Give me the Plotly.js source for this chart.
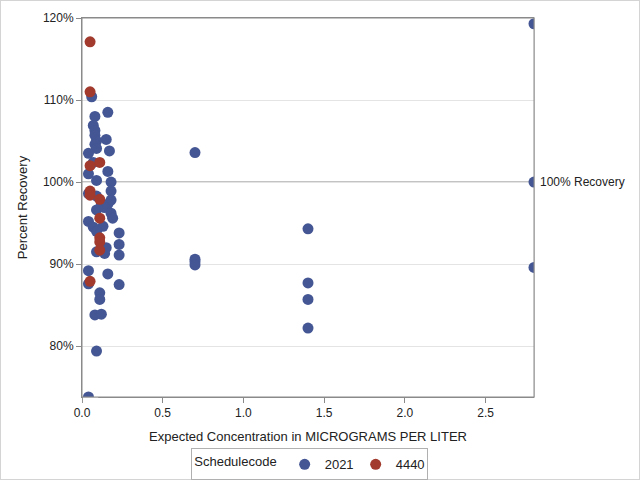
<!DOCTYPE html>
<html><head><meta charset="utf-8">
<script src="https://cdn.plot.ly/plotly-3.0.1.min.js"></script>
<style>
html,body{margin:0;padding:0;background:#fff;}
#chart{width:640px;height:480px;outline:1px solid #d4d4d4;outline-offset:-1px;}
</style></head>
<body><div id="chart"></div>
<script>
// Schedule 2021 (blue)
const x2021 = [0.06,0.16,0.08,0.07,0.08,0.08,0.09,0.15,0.08,0.09,0.17,0.04,0.07,0.16,0.04,0.09,0.18,0.18,0.18,0.04,0.09,0.16,0.12,0.09,0.14,0.18,0.19,0.04,0.07,0.13,0.09,0.23,0.23,0.15,0.09,0.14,0.23,0.04,0.16,0.04,0.23,0.11,0.11,0.08,0.12,0.09,0.04,
  0.7,0.7,0.7,0.7, 1.4,1.4,1.4,1.4, 2.8,2.8,2.8];
const y2021 = [110.4,108.5,108.0,106.9,106.3,105.7,105.0,105.2,104.6,104.1,103.8,103.5,102.4,101.3,101.0,100.2,100.0,98.9,97.8,98.6,98.3,97.3,97.3,96.6,96.9,96.2,95.6,95.2,94.5,94.6,94.0,93.8,92.4,92.0,91.5,91.3,91.1,89.2,88.8,87.6,87.5,86.5,85.7,83.8,83.9,79.4,73.8,
  103.6,90.6,90.3,89.9, 94.3,87.7,85.7,82.2, 119.3,100.0,89.6];
// Schedule 4440 (red)
const x4440 = [0.05,0.05,0.05,0.11,0.05,0.05,0.11,0.11,0.11,0.11,0.11,0.05];
const y4440 = [117.1,111.0,102.0,102.4,98.9,98.4,97.9,95.6,93.2,92.7,91.7,87.9];
const seriesNames = ['2021','4440'];
const yTicks = [80,90,100,110,120];
const yTickText = ['80%','90%','100%','110%','120%'];
const xTicks = [0,0.5,1,1.5,2,2.5];
const xTickText = ['0.0','0.5','1.0','1.5','2.0','2.5'];
const refValue = 100;

const font = {family:'"Liberation Sans", Arial, sans-serif', size:12, color:'#222'};
const frameColor = '#8a8a8a';
const traces = [
  {x:x2021, y:y2021, name:seriesNames[0], type:'scatter', mode:'markers', cliponaxis:true,
   marker:{color:'#445694', size:11}},
  {x:x4440, y:y4440, name:seriesNames[1], type:'scatter', mode:'markers', cliponaxis:true,
   marker:{color:'#A23A2E', size:11}}
];
const layout = {
  width:640, height:480,
  margin:{l:82, r:106, t:18, b:83},
  paper_bgcolor:'rgba(0,0,0,0)', plot_bgcolor:'#fff',
  font:font,
  showlegend:true,
  xaxis:{range:[0,2.8], tickvals:xTicks, ticktext:xTickText, showgrid:false, zeroline:false,
    showline:true, linecolor:frameColor, linewidth:1, mirror:true, ticks:'outside', ticklen:5, tickcolor:frameColor,
    title:{text:'Expected Concentration in MICROGRAMS PER LITER', font:{size:13, color:'#222'}, standoff:12}},
  yaxis:{range:[73.8,120], tickvals:yTicks, ticktext:yTickText, showgrid:true, gridcolor:'#e4e4e4', zeroline:false,
    showline:true, linecolor:frameColor, linewidth:1, mirror:true, ticks:'outside', ticklen:5, tickcolor:frameColor,
    title:{text:'Percent Recovery', font:{size:13, color:'#222'}, standoff:12}},
  shapes:[
    {type:'line', xref:'paper', x0:0, x1:1, yref:'y', y0:refValue, y1:refValue,
     line:{color:'#888', width:1.2}, layer:'below'},
    // white masks so markers are cut at the plot edges
    {type:'rect', xref:'paper', x0:1.001, x1:1.014, yref:'paper', y0:-0.02, y1:1.02,
     fillcolor:'#fff', line:{width:0}, layer:'above'},
    {type:'rect', xref:'paper', x0:0.002, x1:0.036, yref:'paper', y0:-0.018, y1:-0.001,
     fillcolor:'#fff', line:{width:0}, layer:'above'},
    {type:'rect', xref:'paper', x0:0, x1:1, yref:'paper', y0:0, y1:1,
     line:{color:frameColor, width:1}, layer:'above'}
  ],
  annotations:[{xref:'paper', x:1, yref:'y', y:refValue, text:'100% Recovery', showarrow:false,
    xanchor:'left', xshift:4, font:{size:12, color:'#222'}}],
  legend:{orientation:'h', xref:'container', x:0.484, xanchor:'center', yref:'container', y:0.066, yanchor:'top',
    bordercolor:'#b0b0b0', borderwidth:1, font:{size:13, color:'#222'},
    title:{text:'Schedulecode', side:'left', font:{size:13, color:'#222'}},
    itemwidth:30, entrywidth:26, tracegroupgap:0}
};
Plotly.newPlot('chart', traces, layout, {displayModeBar:false});
</script></body></html>
